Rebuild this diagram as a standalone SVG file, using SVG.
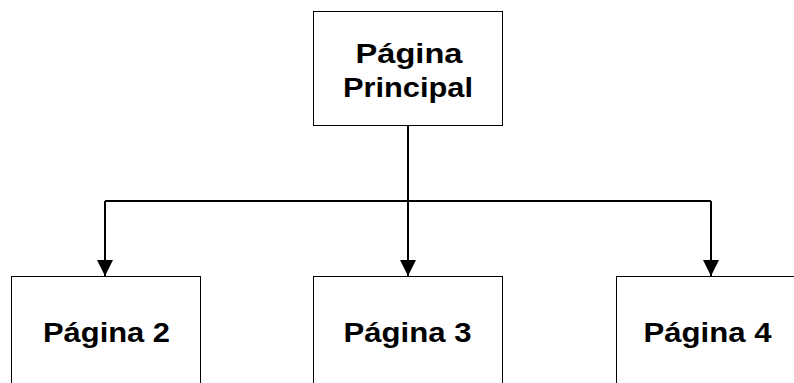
<svg xmlns="http://www.w3.org/2000/svg" width="794" height="383" viewBox="0 0 794 383">
<style>
.box{fill:#fff;stroke:#000;stroke-width:1}
.lbl{font-family:"Liberation Sans",Arial,sans-serif;font-weight:bold;font-size:27.5px;fill:#000;text-anchor:middle}
.conn{fill:none;stroke:#000;stroke-width:2}
</style>
<defs>
<marker id="arr" markerWidth="16" markerHeight="18" refX="16" refY="8" orient="auto" markerUnits="userSpaceOnUse">
<path d="M0,0 L16,8 L0,16 Z" fill="#000"/>
</marker>
</defs>
<rect width="794" height="383" fill="#fff"/>
<g id="connectors">
<path class="conn" d="M408,125 V201"/>
<path class="conn" d="M105,201 H711"/>
<path class="conn" d="M105,201 V276" marker-end="url(#arr)"/>
<path class="conn" d="M408,201 V276" marker-end="url(#arr)"/>
<path class="conn" d="M711,201 V276" marker-end="url(#arr)"/>
</g>
<g id="principal">
<rect class="box" x="313.5" y="11.5" width="189" height="114"/>
<text class="lbl" x="409" y="63" textLength="107" lengthAdjust="spacingAndGlyphs">Página</text>
<text class="lbl" x="408" y="97" textLength="130" lengthAdjust="spacingAndGlyphs">Principal</text>
</g>
<g id="pagina2">
<rect class="box" x="11.5" y="276.5" width="189" height="114"/>
<text class="lbl" x="106.5" y="342" textLength="127" lengthAdjust="spacingAndGlyphs">Página 2</text>
</g>
<g id="pagina3">
<rect class="box" x="313.5" y="276.5" width="189" height="114"/>
<text class="lbl" x="407.5" y="342" textLength="128" lengthAdjust="spacingAndGlyphs">Página 3</text>
</g>
<g id="pagina4">
<rect class="box" x="616.5" y="276.5" width="189" height="114"/>
<text class="lbl" x="707.5" y="342" textLength="128" lengthAdjust="spacingAndGlyphs">Página 4</text>
</g>
</svg>
